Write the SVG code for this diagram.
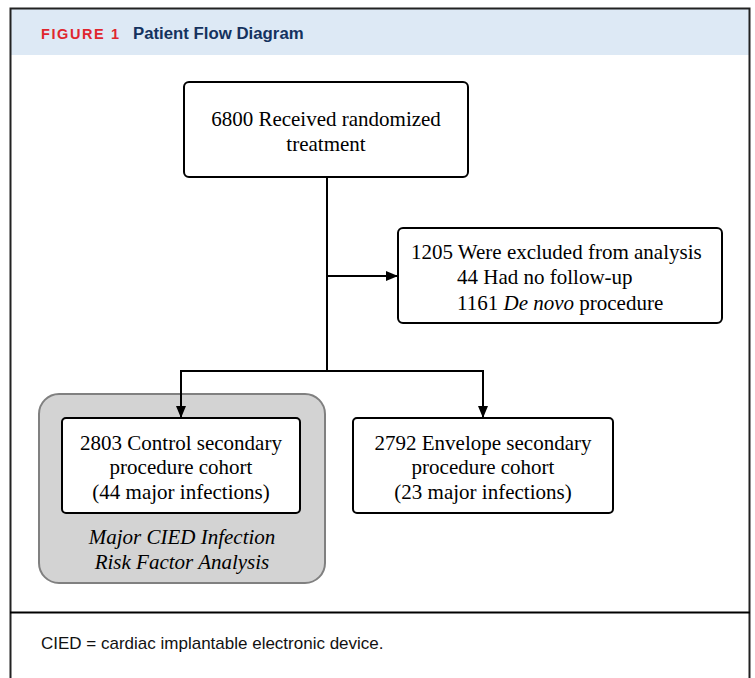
<svg xmlns="http://www.w3.org/2000/svg" width="755" height="678" viewBox="0 0 755 678">
<defs>
<marker id="ah" markerWidth="12" markerHeight="10" refX="12" refY="5" orient="auto" markerUnits="userSpaceOnUse">
<path d="M0,0 L12,5 L0,10 z" fill="#000"/>
</marker>
<style>
.box{fill:#fff;stroke:#000;stroke-width:2}
.t{font-family:"Liberation Serif","Times New Roman",serif;font-size:21px;fill:#000}
.c{text-anchor:middle}
.it{font-style:italic}
.ln{fill:none;stroke:#000;stroke-width:2}
</style>
</defs>
<rect x="0" y="0" width="755" height="678" fill="#fff"/>
<rect x="11" y="9" width="738" height="46" fill="#dde9f5"/>
<path d="M10.5,700 V8.5 H749.5 V700" fill="none" stroke="#222" stroke-width="2"/>
<line x1="10" y1="612.5" x2="750" y2="612.5" stroke="#000" stroke-width="2"/>
<text x="41" y="39" font-family="'Liberation Sans',Arial,sans-serif" font-size="14.5" font-weight="bold" fill="#e0262e" letter-spacing="1.6">FIGURE 1</text>
<text x="133" y="39" font-family="'Liberation Sans',Arial,sans-serif" font-size="16.8" font-weight="bold" fill="#14325e">Patient Flow Diagram</text>
<g id="n_top">
<rect class="box" x="184" y="82" width="284" height="95" rx="5"/>
<text class="t c" x="326" y="126">6800 Received randomized</text>
<text class="t c" x="326" y="151">treatment</text>
</g>
<g id="n_excluded">
<rect class="box" x="398" y="228" width="324" height="95" rx="5"/>
<text class="t" x="411" y="259">1205 Were excluded from analysis</text>
<text class="t" x="457" y="284">44 Had no follow-up</text>
<text class="t" x="457" y="310">1161 <tspan class="it">De novo</tspan> procedure</text>
</g>
<g id="n_group">
<rect x="39" y="394" width="286" height="189" rx="20" fill="#d3d3d3" stroke="#808080" stroke-width="2"/>
<text class="t c it" x="182" y="544">Major CIED Infection</text>
<text class="t c it" x="182" y="569">Risk Factor Analysis</text>
</g>
<g id="n_control">
<rect class="box" x="62" y="418" width="238" height="95" rx="4"/>
<text class="t c" x="181" y="450">2803 Control secondary</text>
<text class="t c" x="181" y="474">procedure cohort</text>
<text class="t c" x="181" y="499">(44 major infections)</text>
</g>
<g id="n_envelope">
<rect class="box" x="353" y="418" width="260" height="95" rx="4"/>
<text class="t c" x="483" y="450">2792 Envelope secondary</text>
<text class="t c" x="483" y="474">procedure cohort</text>
<text class="t c" x="483" y="499">(23 major infections)</text>
</g>
<g id="connectors">
<line class="ln" x1="327" y1="177" x2="327" y2="371"/>
<line class="ln" x1="327" y1="276" x2="398" y2="276" marker-end="url(#ah)"/>
<path class="ln" d="M181,371 H483"/>
<line class="ln" x1="181" y1="370" x2="181" y2="418" marker-end="url(#ah)"/>
<line class="ln" x1="483" y1="370" x2="483" y2="418" marker-end="url(#ah)"/>
</g>
<text x="41" y="649" font-family="'Liberation Sans',Arial,sans-serif" font-size="17" fill="#111">CIED = cardiac implantable electronic device.</text>
</svg>
